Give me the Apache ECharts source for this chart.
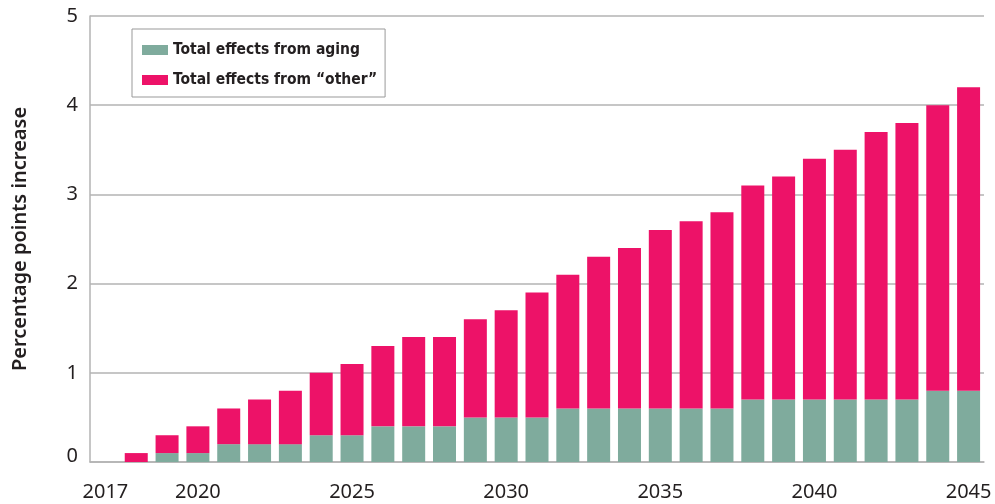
<!DOCTYPE html>
<html lang="en">
<head>
    <meta charset="UTF-8">
    <title>Aging vs other effects</title>
    <script src="https://cdn.jsdelivr.net/npm/echarts@6/dist/echarts.min.js"></script>
    <style>
        html, body { margin: 0; padding: 0; background: #fff; }
    </style>
</head>
<body>
<div id="chart" style="width: 995px;height:504px;"></div>
<script>
    // years on the x axis (2017 has no bar)
    var years = [];
    for (var y = 2017; y <= 2045; y++) years.push(String(y));
    var shownYears = ['2017', '2020', '2025', '2030', '2035', '2040', '2045'];

    // total height of each bar
    var totals = [0, 0.1, 0.3, 0.4, 0.6, 0.7, 0.8, 1.0, 1.1, 1.3, 1.4, 1.4, 1.6, 1.7, 1.9,
                  2.1, 2.3, 2.4, 2.6, 2.7, 2.8, 3.1, 3.2, 3.4, 3.5, 3.7, 3.8, 4.0, 4.2];
    // green part (aging)
    var aging = [0, 0, 0.1, 0.1, 0.2, 0.2, 0.2, 0.3, 0.3, 0.4, 0.4, 0.4, 0.5, 0.5, 0.5,
                 0.6, 0.6, 0.6, 0.6, 0.6, 0.6, 0.7, 0.7, 0.7, 0.7, 0.7, 0.7, 0.8, 0.8];
    // pink part = the rest of the bar
    var other = totals.map(function (t, i) { return +(t - aging[i]).toFixed(2); });

    var myChart = echarts.init(document.getElementById('chart'));
    myChart.setOption({
        animation: false,
        textStyle: { fontFamily: 'Noto Sans' },
        grid: { left: 90, top: 16, width: 894, height: 446, containLabel: false },
        legend: {
            orient: 'vertical',
            left: 132,
            top: 29,
            padding: [13, 8, 9, 10],
            borderColor: '#999',
            borderWidth: 1,
            itemWidth: 26,
            itemHeight: 10,
            itemGap: 14,
            icon: 'rect',
            textStyle: {
                fontFamily: "'DejaVu Sans Condensed', 'Liberation Sans', sans-serif",
                fontWeight: 'bold',
                fontSize: 15.5,
                color: '#231f20'
            },
            data: ['Total effects from aging', 'Total effects from \u201cother\u201d']
        },
        xAxis: {
            type: 'category',
            data: years,
            axisLine: { lineStyle: { color: '#b3b3b3', width: 1.5 } },
            axisTick: { show: false },
            axisLabel: {
                interval: function (i, v) { return shownYears.indexOf(v) >= 0; },
                fontSize: 20,
                color: '#231f20',
                margin: 20
            }
        },
        yAxis: {
            type: 'value',
            min: 0,
            max: 5,
            interval: 1,
            name: 'Percentage points increase',
            nameLocation: 'middle',
            nameGap: 60,
            nameTextStyle: { fontSize: 20, fontWeight: 600, color: '#231f20' },
            axisLine: { show: true, lineStyle: { color: '#b3b3b3', width: 1.5 } },
            axisTick: { show: false },
            axisLabel: {
                fontSize: 20,
                color: '#231f20',
                margin: 12,
                formatter: function (v) { return v === 0 ? '{z|0}' : String(v); },
                rich: { z: { fontSize: 20, color: '#231f20', padding: [0, 0, 12, 0] } }
            },
            splitLine: { lineStyle: { color: '#b3b3b3', width: 1.5 } }
        },
        series: [
            {
                name: 'Total effects from aging',
                type: 'bar',
                stack: 'total',
                barWidth: 23,
                itemStyle: { color: '#7fab9d' },
                data: aging
            },
            {
                name: 'Total effects from \u201cother\u201d',
                type: 'bar',
                stack: 'total',
                barWidth: 23,
                itemStyle: { color: '#ed1268' },
                data: other
            }
        ]
    });
</script>
</body>
</html>
